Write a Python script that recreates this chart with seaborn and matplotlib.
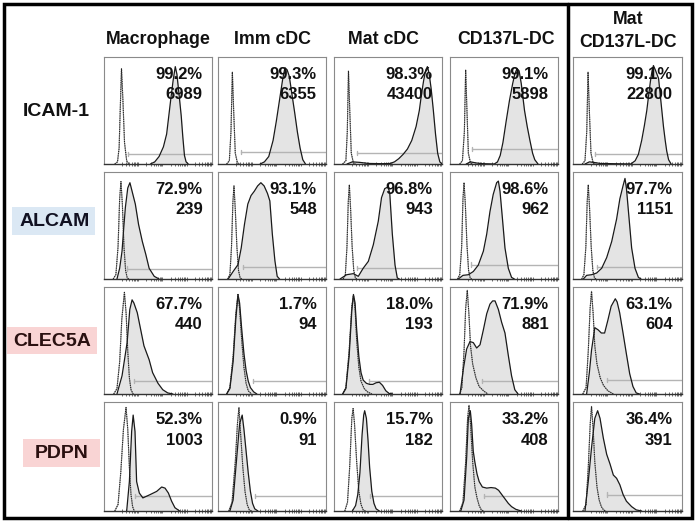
import pandas as pd
import numpy as np
import matplotlib
matplotlib.use("Agg")
import matplotlib.pyplot as plt
from matplotlib.patches import Rectangle
import seaborn as sns

sns.set_style("white")
plt.rcParams['font.family'] = ['Liberation Sans', 'DejaVu Sans']

cell_types = ["Macrophage", "Imm cDC", "Mat cDC", "CD137L-DC", "Mat\nCD137L-DC"]
markers = ["ICAM-1", "ALCAM", "CLEC5A", "PDPN"]

# histogram outlines: (channel, % of max), one per cell type
icam1_iso = [
    [(10, 0), (12.5, 2), (14, 15), (15, 50), (16.2, 89), (17.5, 60), (19, 20), (21, 3), (23, 0)],
    [(8, 0), (10.5, 3), (12, 30), (13.3, 86), (14.5, 50), (16, 10), (18, 1), (20, 0)],
    [(8, 0), (11, 3), (12.3, 30), (13.4, 87), (14.6, 50), (16, 10), (18, 1), (20, 0)],
    [(9, 0), (11.5, 3), (13.3, 30), (14.5, 88), (15.7, 50), (17, 10), (19, 1), (21, 0)],
    [(8.5, 0), (11, 3), (12.6, 30), (13.8, 86), (15, 50), (16.5, 10), (18.5, 1), (20.5, 0)],
]
icam1_stain = [
    [(43, 0), (47, 2), (51, 7), (55, 16), (58, 28), (60, 45), (62, 62), (64, 78), (66, 91), (67.5, 84),
     (69.5, 65), (71.5, 45), (73, 25), (74.5, 8), (76, 2), (78, 0)],
    [(39, 0), (43, 2), (47, 7), (51, 22), (54, 40), (57, 60), (60, 80), (62, 90), (64, 88), (66, 82),
     (68.5, 65), (71, 48), (73.5, 30), (76, 15), (78.5, 4), (81, 0)],
    [(12, 0), (17, 2), (24, 1.5), (32, 0.5), (45, 0.3), (52, 0.5), (56, 2), (60, 5), (64, 9), (68, 14),
     (72, 22), (76, 35), (79, 50), (81, 65), (83, 78), (85, 88), (86.5, 91), (88, 85), (90, 70),
     (92, 50), (94, 28), (96, 10), (98, 2), (100, 0)],
    [(15, 0), (19, 2), (24, 1), (30, 0.3), (41, 0), (44, 2), (46.5, 8), (49, 20), (52, 40), (55, 59),
     (58, 75), (60, 84), (62, 89), (64, 87), (66, 75), (69, 50), (71.5, 35), (74, 22), (76.5, 10),
     (78.5, 4), (81.5, 0)],
    [(11, 0), (15, 2), (19, 1.5), (25, 0.5), (53, 0), (57, 3), (60, 9), (63, 22), (65.5, 36), (67.7, 50),
     (69.5, 65), (71, 77), (72.5, 87), (73.8, 92), (75.5, 88), (77, 84), (78.5, 80), (80, 65),
     (81.5, 50), (83, 35), (84.6, 22), (86, 12), (87.7, 4), (90, 0)],
]
icam1_gate = [(22.5, 9.3), (21.6, 11), (21.2, 10.2), (20.6, 14), (20, 9.6)]
icam1_pct = ["99.2%", "99.3%", "98.3%", "99.1%", "99.1%"]
icam1_mfi = ["6989", "6355", "43400", "5898", "22800"]

alcam_iso = [
    [(8.5, 0), (11, 4), (13, 30), (14.5, 75), (15.7, 91), (17, 70), (18.5, 30), (20, 8), (21.5, 1), (23, 0)],
    [(9, 0), (11, 4), (12.5, 30), (13.8, 72), (14.8, 87), (16, 65), (17.5, 30), (19, 8), (20.5, 1), (22, 0)],
    [(8.5, 0), (10.5, 4), (12, 30), (13.2, 72), (14.2, 88), (15.4, 65), (16.8, 30), (18.3, 8), (19.8, 1), (21, 0)],
    [(7, 0), (9, 4), (10.8, 30), (12, 75), (13, 90), (14.2, 70), (15.7, 32), (17.2, 8), (18.7, 1), (20, 0)],
    [(8, 0), (10, 4), (11.8, 30), (13, 72), (14, 88), (15.2, 66), (16.7, 30), (18.2, 8), (19.7, 1), (21, 0)],
]
alcam_stain = [
    [(12, 0), (14.5, 10), (16.7, 26), (18.3, 48), (19.8, 67), (22, 85), (24, 90), (26, 82), (29, 70),
     (32, 51), (35.5, 35), (38.7, 23), (41.8, 10), (46.5, 2.5), (51, 0)],
    [(9.4, 0), (14, 7), (18.5, 13.4), (21.5, 29), (24.5, 51), (27.6, 70), (30.6, 78), (33.6, 82),
     (36.7, 87), (39.7, 90), (42.7, 87), (45.8, 80), (48, 73), (50.3, 42), (52.7, 17), (54.8, 2.5), (57, 0)],
    [(5.6, 0), (11.7, 4), (17.9, 5), (22.5, 2.5), (27, 10), (31.8, 16.5), (36.4, 32), (41, 54), (44, 76),
     (47, 84.5), (50, 86), (51.6, 80.6), (54, 42), (56.5, 13), (58.6, 1), (60.5, 0)],
    [(7.7, 0), (12, 3.4), (17, 4), (21.6, 7), (26.2, 13), (30.9, 26), (34, 42), (37, 63), (40, 79),
     (43.2, 90), (44.8, 91.5), (46.3, 82), (48.5, 57), (50.9, 29), (54, 10), (57, 1.5), (59.6, 0)],
    [(9.5, 0), (12.5, 3.4), (17, 4), (21.7, 5.6), (26.3, 10), (30.9, 20), (35.5, 35), (40, 56), (43, 75),
     (46, 87.5), (47.7, 94), (49, 85), (51.4, 57), (53.8, 29), (56.9, 10), (60, 1.5), (62.4, 0)],
]
alcam_gate = [(21.4, 9.7), (23, 11), (21, 10), (19, 13.5), (21.7, 11)]
alcam_pct = ["72.9%", "93.1%", "96.8%", "98.6%", "97.7%"]
alcam_mfi = ["239", "548", "943", "962", "1151"]

clec5a_iso = [
    [(9, 0), (12, 5), (14.5, 30), (16.5, 70), (18.9, 95), (20.5, 75), (22, 40), (23.5, 15), (25, 4), (27, 0)],
    [(8, 0), (11, 6), (14, 35), (16.5, 75), (18.5, 93), (20, 80), (22, 50), (24, 25), (26, 10), (28, 3), (31, 0)],
    [(8, 0), (11, 6), (14, 40), (16.5, 82), (18, 92), (19.5, 80), (21, 50), (23, 25), (25, 12), (28, 5),
     (31, 2), (35, 0)],
    [(9, 0), (11, 6), (13, 40), (14.5, 80), (16, 97), (17.5, 75), (19, 45), (21, 28), (24, 15), (27, 7),
     (31, 3), (35, 0)],
    [(9, 0), (12, 6), (14, 40), (15.7, 80), (17, 96), (18.5, 75), (20, 45), (22, 28), (25, 15), (28, 8),
     (32, 3), (37, 0)],
]
clec5a_stain = [
    [(12, 0), (16.7, 17), (21.4, 48), (23.9, 79), (26, 88), (27.7, 85), (30.8, 76), (34, 60), (37, 45),
     (41.8, 32), (45, 20), (50, 10), (54.4, 4), (59, 1), (63.8, 0)],
    [(8, 0), (11, 5), (14, 30), (16.5, 70), (18.5, 93), (20, 85), (22, 60), (24, 38), (26, 22), (28, 12),
     (30, 6), (33, 2), (36, 0)],
    [(8, 0), (11, 5), (14, 35), (16.5, 78), (18, 93), (19.5, 85), (21, 60), (23, 35), (25, 20), (27, 13),
     (30, 10), (33, 9), (36, 9), (39, 10.5), (42, 11), (45, 8), (48, 3), (51, 0.5), (54, 0)],
    [(9.3, 0), (12.3, 23), (15.4, 42), (18.5, 49), (21.6, 48), (24.7, 43), (27.8, 46), (30.9, 60), (34, 75),
     (37, 84), (39.5, 87), (41.7, 87), (44.8, 79), (47.8, 67), (50.9, 57), (54, 36), (57, 17), (60, 4), (63, 0)],
    [(12.5, 0), (15, 20), (17, 41), (20, 62), (23, 60), (26, 57), (29, 57), (32, 69), (35, 82), (38.8, 89),
     (40.5, 86), (42.8, 76), (45.9, 57), (48.9, 38), (52, 19), (55, 7), (58, 1), (61, 0)],
]
clec5a_gate = [(27.7, 12), (32.7, 12), (32.7, 12), (29.3, 12), (31, 13.4)]
clec5a_pct = ["67.7%", "1.7%", "18.0%", "71.9%", "63.1%"]
clec5a_mfi = ["440", "94", "193", "881", "604"]

pdpn_iso = [
    [(10, 0), (13, 6), (15.5, 35), (18, 75), (20.4, 95), (22, 75), (23.5, 40), (25, 15), (26.5, 4), (28, 0)],
    [(10, 0), (13, 8), (16, 45), (18, 80), (19.4, 95), (21, 70), (23, 40), (25, 18), (27, 6), (29, 1), (31, 0)],
    [(10, 0), (12.5, 8), (14.5, 40), (16.5, 85), (17.7, 94), (19, 80), (21, 45), (23, 18), (25, 6), (27, 1), (29, 0)],
    [(9, 0), (12, 8), (14.5, 45), (16.3, 85), (17.6, 97), (19, 80), (21, 45), (23, 22), (25, 12), (27, 5),
     (29, 1), (31, 0)],
    [(9, 0), (12, 6), (14, 40), (15.8, 80), (17, 96), (18.5, 75), (20, 45), (22, 22), (24, 10), (26, 4),
     (28, 1), (30, 0)],
]
pdpn_stain = [
    [(21, 0), (23.5, 27), (25.6, 73), (27, 88), (28.7, 73), (30.2, 27), (32.7, 16.5), (36, 12), (42.6, 15),
     (48.8, 18), (53.4, 22), (56.5, 21), (59.6, 16.5), (62.6, 9), (65.7, 3), (70, 0)],
    [(11, 0), (14, 10), (17, 45), (20, 80), (22.4, 88), (24, 75), (26, 55), (28, 35), (30, 18), (32, 7),
     (34, 2), (37, 0)],
    [(17, 0), (20, 5), (22, 15), (24, 35), (26, 70), (27.5, 88), (28.4, 92), (30, 85), (31.5, 65), (33, 40),
     (35, 18), (37, 7), (39, 2), (42, 0)],
    [(10, 0), (13, 10), (15.5, 50), (17, 85), (18.8, 92), (20, 80), (21.5, 55), (23, 45), (25, 34), (27, 27),
     (30, 22), (34, 21), (38, 21.5), (42, 21), (45, 19), (48, 15), (51, 11), (54, 7), (57, 4), (61, 1.5), (66, 0)],
    [(11, 0), (14, 27), (17, 58), (20, 85), (22.6, 92), (24.8, 85), (27.8, 67), (30.9, 52), (34, 43), (37, 33),
     (40, 30), (43, 24), (46, 15), (49, 9), (53.8, 4), (58, 1), (63, 0)],
]
pdpn_gate = [(28.7, 13.5), (34.5, 13.5), (33, 13.5), (31.8, 13.5), (30.9, 15)]
pdpn_pct = ["52.3%", "0.9%", "15.7%", "33.2%", "36.4%"]
pdpn_mfi = ["1003", "91", "182", "408", "391"]

iso_rows = [icam1_iso, alcam_iso, clec5a_iso, pdpn_iso]
stain_rows = [icam1_stain, alcam_stain, clec5a_stain, pdpn_stain]
gate_rows = [icam1_gate, alcam_gate, clec5a_gate, pdpn_gate]
pct_rows = [icam1_pct, alcam_pct, clec5a_pct, pdpn_pct]
mfi_rows = [icam1_mfi, alcam_mfi, clec5a_mfi, pdpn_mfi]

records = []
for r in range(len(markers)):
    for c in range(len(cell_types)):
        for kind, rows in (("iso", iso_rows), ("stain", stain_rows)):
            for x, y in rows[r][c]:
                records.append({"row": r, "col": c, "kind": kind, "x": x, "y": y})
df = pd.DataFrame(records)

W, H = 697, 523
fig = plt.figure(figsize=(W / 100, H / 100), dpi=100)

# page layout (pixels)
bg = fig.add_axes([0, 0, 1, 1])
bg.set_xlim(0, W)
bg.set_ylim(H, 0)
bg.axis("off")
bg.add_patch(Rectangle((4, 4), 688, 514, fill=False, lw=2.5, ec="black"))
bg.plot([568, 568], [4, 518], color="black", lw=2.5)

col_left = [104, 218, 334, 450, 573]
col_w = [108, 108, 108, 108, 109]
row_top = [57, 172, 287, 402]
row_h = [107, 107, 107, 109]

header_x = [158, 272, 384, 506, 628]
for c, name in enumerate(cell_types):
    bg.text(header_x[c], 40 if "\n" not in name else 31, name, ha="center", va="center",
            fontsize=12.8, fontweight="bold", color="#111111", linespacing=1.45)

label_boxes = [None, ((12, 207), 83, 28, "#dbe8f4"), ((7, 327), 90, 27, "#f9d4d4"),
               ((23, 439), 77, 28, "#f9d4d4")]
label_pos = [(56, 112), (55, 221), (52, 341), (62, 453)]
label_col = ["#111111", "#111122", "#2a1010", "#2a1010"]
for r, name in enumerate(markers):
    if label_boxes[r] is not None:
        (x0, y0), bw, bh, fc = label_boxes[r]
        bg.add_patch(Rectangle((x0, y0), bw, bh, color=fc, lw=0))
    bg.text(label_pos[r][0], label_pos[r][1], name, ha="center", va="center",
            fontsize=14, fontweight="bold", color=label_col[r])

# bottom ruler ticks, log-like spacing
minor = [10 + 22.5 * (d + np.log10(m)) for d in range(4) for m in range(1, 10)]
minor = [t for t in minor if t < 100]

for r in range(len(markers)):
    for c in range(len(cell_types)):
        ax = fig.add_axes([col_left[c] / W, 1 - (row_top[r] + row_h[r]) / H,
                           col_w[c] / W, row_h[r] / H])
        sub = df[(df.row == r) & (df.col == c)]
        iso = sub[sub.kind == "iso"]
        st = sub[sub.kind == "stain"]
        ax.fill_between(st.x, st.y, 0, color="#e4e4e4", lw=0, zorder=1)
        sns.lineplot(data=st, x="x", y="y", ax=ax, estimator=None, sort=False,
                     color="#1a1a1a", lw=0.9, zorder=3)
        sns.lineplot(data=iso, x="x", y="y", ax=ax, estimator=None, sort=False,
                     color="#9a9a9a", lw=0.8, zorder=2)
        sns.lineplot(data=iso, x="x", y="y", ax=ax, estimator=None, sort=False,
                     color="#222222", lw=0.8, linestyle=(0, (1, 1)), zorder=4)
        gx, gy = gate_rows[r][c]
        ax.plot([gx, 100], [gy, gy], color="#b4b4b4", lw=1, zorder=2)
        ax.plot([gx, gx], [gy - 2, gy + 2], color="#b4b4b4", lw=1, zorder=2)

        ax.text(0.915, 0.84, pct_rows[r][c], transform=ax.transAxes, ha="right", va="center",
                fontsize=12, fontweight="bold", color="#111111", zorder=5)
        ax.text(0.915, 0.645, mfi_rows[r][c], transform=ax.transAxes, ha="right", va="center",
                fontsize=12, fontweight="bold", color="#111111", zorder=5)

        ax.set_xlim(0, 100)
        ax.set_ylim(0, 100)
        ax.set_xlabel("")
        ax.set_ylabel("")
        ax.set_yticks([])
        ax.set_xticks([10, 32.5, 55, 77.5])
        ax.set_xticks(minor, minor=True)
        ax.set_xticklabels([])
        ax.tick_params(axis="x", which="major", direction="inout", length=4, width=0.8, color="#333333")
        ax.tick_params(axis="x", which="minor", direction="inout", length=2.5, width=0.6,
                       color="#555555", bottom=True)
        for side in ("top", "left", "right"):
            ax.spines[side].set_color("#8a8a8a")
            ax.spines[side].set_linewidth(0.8)
        ax.spines["bottom"].set_color("#333333")
        ax.spines["bottom"].set_linewidth(1.0)
        ax.set_facecolor("white")

fig.savefig("out.png", dpi=100)
